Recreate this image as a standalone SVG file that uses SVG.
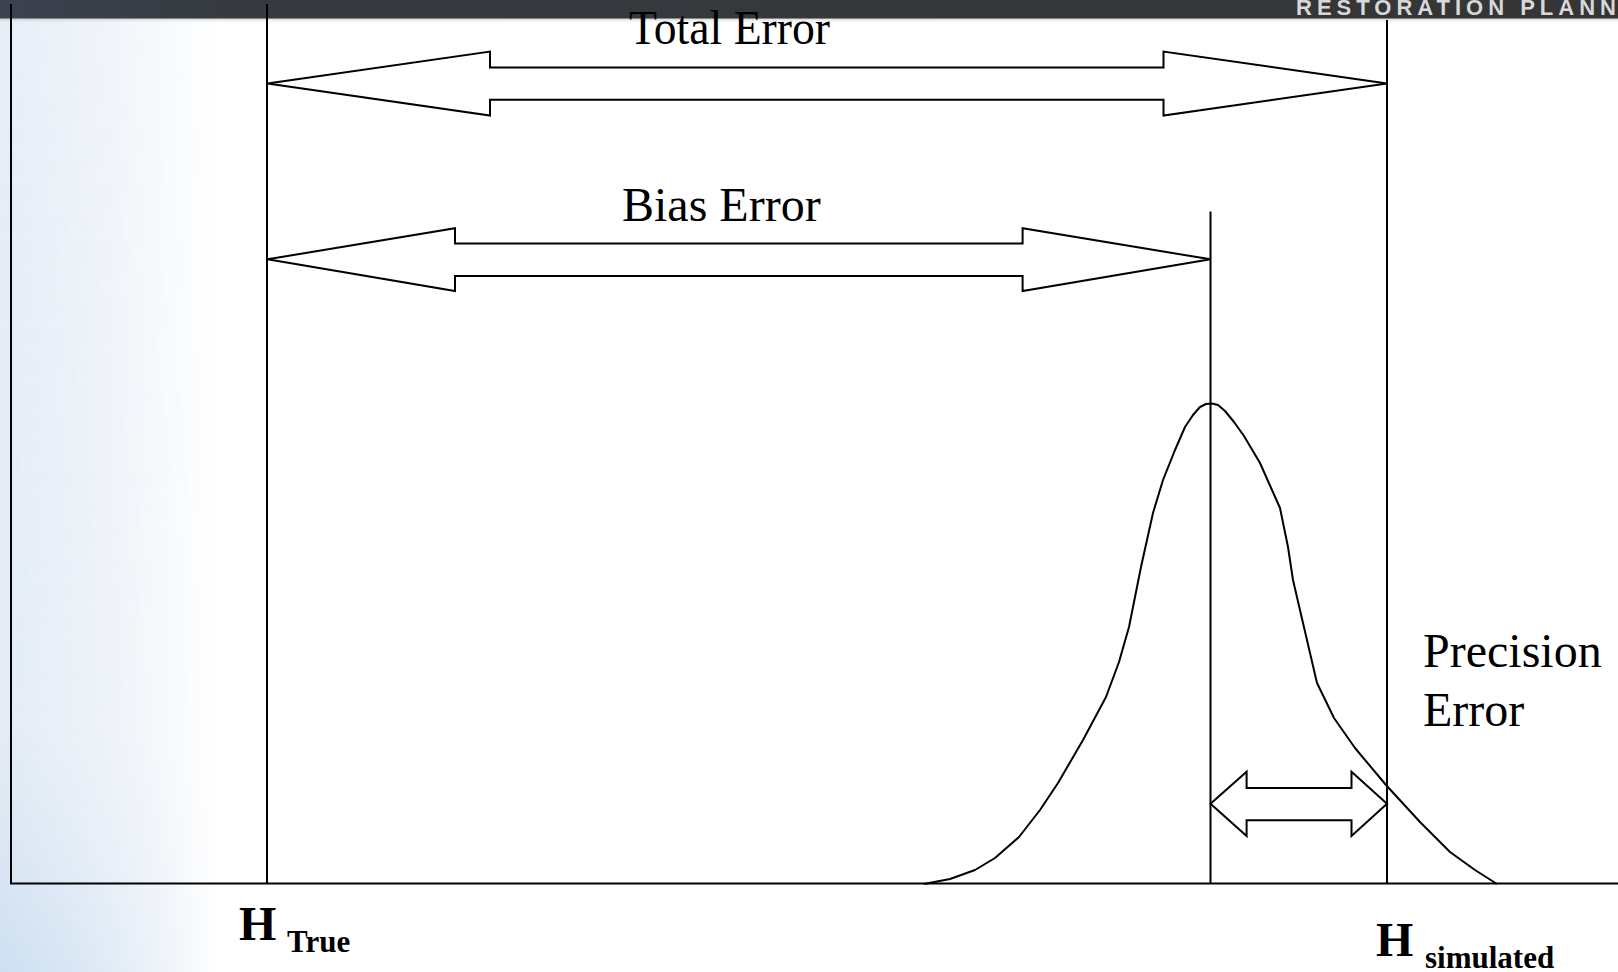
<svg xmlns="http://www.w3.org/2000/svg" width="1618" height="972" viewBox="0 0 1618 972">
  <defs>
    <linearGradient id="skyH" x1="0" y1="0" x2="1" y2="0">
      <stop offset="0" stop-color="#e6eef7"/>
      <stop offset="0.5" stop-color="#f1f5fa"/>
      <stop offset="1" stop-color="#ffffff"/>
    </linearGradient>
    <linearGradient id="skyV" x1="0" y1="0" x2="0" y2="1">
      <stop offset="0" stop-color="#c9dcef" stop-opacity="0"/>
      <stop offset="0.75" stop-color="#c9dcef" stop-opacity="0.1"/>
      <stop offset="1" stop-color="#bcd5ee" stop-opacity="0.6"/>
    </linearGradient>
    <linearGradient id="skyVfade" x1="0" y1="0" x2="1" y2="0">
      <stop offset="0" stop-color="#ffffff" stop-opacity="1"/>
      <stop offset="1" stop-color="#ffffff" stop-opacity="0"/>
    </linearGradient>
    <mask id="fadeMask">
      <rect x="0" y="0" width="220" height="972" fill="url(#skyVfade)"/>
    </mask>
    <linearGradient id="barGrad" x1="0" y1="0" x2="1" y2="0">
      <stop offset="0" stop-color="#3b4350"/>
      <stop offset="0.14" stop-color="#363a40"/>
      <stop offset="1" stop-color="#353535"/>
    </linearGradient>
    <linearGradient id="barShadow" x1="0" y1="0" x2="0" y2="1">
      <stop offset="0" stop-color="#9a9a9a"/>
      <stop offset="1" stop-color="#ffffff" stop-opacity="0"/>
    </linearGradient>
    <style>
      .ln { stroke: #000; stroke-width: 2; fill: none; }
      .arr { stroke: #000; stroke-width: 2; fill: #fff; stroke-linejoin: miter; }
      .lbl { font-family: "Liberation Serif", "Times New Roman", serif; font-size: 48px; fill: #000; }
      .hb { font-family: "Liberation Serif", "Times New Roman", serif; font-weight: bold; fill: #000; }
      .hdr { font-family: "Liberation Sans", Arial, sans-serif; font-weight: bold; font-size: 22px; fill: #d8d8d8; letter-spacing: 5px; }
    </style>
  </defs>

  <!-- background -->
  <g id="background">
    <rect x="0" y="0" width="1618" height="972" fill="#ffffff"/>
    <rect x="0" y="0" width="220" height="972" fill="url(#skyH)"/>
    <rect x="0" y="0" width="220" height="972" fill="url(#skyV)" mask="url(#fadeMask)"/>
    <rect x="0" y="18" width="1618" height="6" fill="url(#barShadow)" opacity="0.5"/>
    <rect x="0" y="0" width="1618" height="18.5" fill="url(#barGrad)"/>
    <text class="hdr" x="1296" y="15">RESTORATION PLANN</text>
  </g>

  <!-- axes and reference lines -->
  <g id="axes">
    <line class="ln" x1="11" y1="4" x2="11" y2="884"/>
    <line class="ln" x1="10" y1="883.5" x2="1618" y2="883.5"/>
  </g>
  <g id="h-true-line">
    <line class="ln" x1="267" y1="4" x2="267" y2="884"/>
  </g>
  <g id="mean-line">
    <line class="ln" x1="1210.5" y1="211.5" x2="1210.5" y2="884"/>
  </g>
  <g id="h-simulated-line">
    <line class="ln" x1="1387" y1="20" x2="1387" y2="884"/>
  </g>

  <!-- distribution curve -->
  <g id="distribution">
    <polyline class="ln" stroke-linejoin="round" points="924,884 950,879 975,870 995,858 1019,837 1040,810 1058,783 1083,740 1106,697 1119,662 1129,627 1141,567 1153,513 1163,480 1175,450 1185,427 1193,415 1200,407 1206,404 1212,403.5 1218,405 1225,411 1234,422 1244,436 1260,463 1280,508 1288,547 1293,580 1303,623 1317,683 1334,718 1355,748 1386,785 1420,822 1450,852 1475,870 1497,884"/>
  </g>

  <!-- double arrows -->
  <g id="connectors">
    <polygon id="total-error-arrow" class="arr" points="267.5,83.5 490,51.6 490,67.5 1163.5,67.5 1163.5,51.6 1387,83.5 1163.5,115.6 1163.5,99.8 490,99.8 490,115.6"/>
    <polygon id="bias-error-arrow" class="arr" points="267.5,259.3 455,228.3 455,243.5 1022.6,243.5 1022.6,228.3 1210.5,259.3 1022.6,291 1022.6,276 455,276 455,291"/>
    <polygon id="precision-error-arrow" class="arr" points="1210.5,803.8 1246.6,771.8 1246.6,788 1351.5,788 1351.5,771.8 1387,803.8 1351.5,836 1351.5,820.2 1246.6,820.2 1246.6,836"/>
  </g>

  <!-- labels -->
  <g id="label-total-error">
    <text class="lbl" x="629" y="44" textLength="201" lengthAdjust="spacingAndGlyphs">Total Error</text>
  </g>
  <g id="label-bias-error">
    <text class="lbl" x="622" y="220.5">Bias Error</text>
  </g>
  <g id="label-precision-error">
    <text class="lbl" x="1423" y="667">Precision</text>
    <text class="lbl" x="1423" y="726">Error</text>
  </g>
  <g id="label-h-true">
    <text class="hb" x="239" y="939.5" font-size="48">H</text>
    <text class="hb" x="287" y="951.5" font-size="31">True</text>
  </g>
  <g id="label-h-simulated">
    <text class="hb" x="1376" y="955.7" font-size="48">H</text>
    <text class="hb" x="1425" y="967.7" font-size="31">simulated</text>
  </g>
</svg>
